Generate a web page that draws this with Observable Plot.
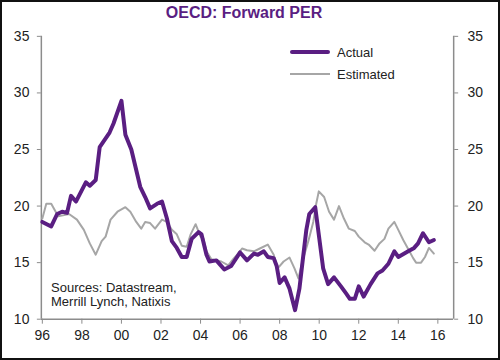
<!DOCTYPE html>
<html>
<head>
<meta charset="utf-8">
<script src="https://cdn.jsdelivr.net/npm/d3@7"></script>
<script src="https://cdn.jsdelivr.net/npm/@observablehq/plot@0.6"></script>
<style>
  html, body { margin: 0; padding: 0; background: #fff; }
  #wrap { position: relative; width: 500px; height: 360px; box-sizing: border-box; border: 2px solid #111; overflow: hidden; font-family: "Liberation Sans", Arial, sans-serif; }
  #chart { position: absolute; left: -2px; top: -2px; }
  .title { position: absolute; left: 0; width: 484px; top: 2px; text-align: center; font-weight: bold; font-size: 16px; color: #5a1e82; }
  .leg { position: absolute; font-size: 13px; color: #222; }
  .sw { position: absolute; height: 0; }
  .src { position: absolute; left: 49px; top: 279px; font-size: 13px; line-height: 14px; color: #222; }
</style>
</head>
<body>
<div id="wrap">
  <div id="chart"></div>
  <div class="title">OECD: Forward PER</div>
  <div class="sw" style="left:288px;top:48px;width:40px;border-top:4px solid #5a1e82;border-radius:2px"></div>
  <div class="leg" style="left:335px;top:43px">Actual</div>
  <div class="sw" style="left:288px;top:71px;width:40px;border-top:2px solid #a6a6a6"></div>
  <div class="leg" style="left:335px;top:65px">Estimated</div>
  <div class="src">Sources: Datastream,<br>Merrill Lynch, Natixis</div>
</div>
<script>
const actualYears = [1996.0,1996.45,1996.75,1997.0,1997.25,1997.45,1997.7,1998.2,1998.4,1998.7,1998.9,1999.4,1999.6,2000.0,2000.2,2000.5,2000.95,2001.2,2001.45,2001.8,2002.05,2002.3,2002.55,2002.8,2003.05,2003.3,2003.55,2003.9,2004.05,2004.3,2004.45,2004.8,2005.2,2005.55,2006.0,2006.35,2006.7,2006.9,2007.2,2007.4,2007.7,2007.85,2008.0,2008.25,2008.5,2008.78,2009.0,2009.2,2009.35,2009.5,2009.8,2010.2,2010.45,2010.75,2011.1,2011.35,2011.55,2011.8,2012.0,2012.25,2012.6,2012.95,2013.2,2013.5,2013.8,2014.0,2014.5,2014.8,2015.0,2015.25,2015.55,2015.8];
const actualValues = [18.6,18.2,19.3,19.5,19.4,20.9,20.4,22.1,21.8,22.3,25.2,26.5,27.3,29.3,26.3,25.0,21.7,20.8,19.8,20.2,20.4,18.9,16.9,16.3,15.5,15.5,17.1,17.7,17.5,15.7,15.1,15.2,14.4,14.7,15.9,15.2,15.8,15.7,16.0,15.5,15.4,14.7,13.2,13.7,12.7,10.8,12.7,15.7,17.9,19.3,19.9,14.5,13.1,13.7,12.9,12.3,11.8,11.8,12.9,12.0,13.1,14.05,14.3,14.9,16.0,15.5,16.0,16.3,16.7,17.6,16.8,17.0];
const estYears = [1996.0,1996.2,1996.45,1996.8,1997.1,1997.35,1997.75,1998.1,1998.4,1998.7,1999.0,1999.2,1999.45,1999.8,2000.2,2000.45,2000.75,2001.0,2001.2,2001.45,2001.7,2002.05,2002.3,2002.55,2002.8,2003.05,2003.3,2003.5,2003.75,2004.0,2004.15,2004.3,2004.55,2004.8,2005.05,2005.4,2005.65,2005.9,2006.1,2006.35,2006.7,2007.0,2007.4,2007.7,2007.9,2008.2,2008.5,2008.75,2008.95,2009.15,2009.45,2009.7,2009.85,2009.98,2010.25,2010.5,2010.75,2011.0,2011.25,2011.5,2011.8,2012.0,2012.3,2012.5,2012.8,2013.05,2013.3,2013.5,2013.8,2014.0,2014.25,2014.5,2014.75,2014.9,2015.15,2015.35,2015.55,2015.8];
const estValues = [18.9,20.2,20.2,19.1,19.2,19.3,18.8,17.9,16.7,15.7,16.9,17.3,18.8,19.5,19.9,19.5,18.6,18.0,18.6,18.5,18.0,18.8,18.6,17.9,17.5,16.5,16.4,17.5,18.4,17.3,17.1,16.0,15.3,15.2,15.1,14.75,15.3,15.8,16.25,16.1,16.0,16.25,16.6,15.7,14.5,15.1,15.45,14.5,13.6,15.1,16.9,18.6,20.2,21.3,20.8,19.5,18.8,20.0,18.9,18.0,17.8,17.3,16.8,16.6,16.05,16.7,17.1,18.0,18.6,17.9,17.0,16.2,15.4,15.0,15.0,15.5,16.3,15.8];
const yTicks = [10,15,20,25,30,35];
const xTicks = [1996,1998,2000,2002,2004,2006,2008,2010,2012,2014,2016];
const xDomain = [1995.95, 2016.8];
const yDomain = [10, 35];

const actual = actualYears.map((x, i) => ({x, y: actualValues[i]}));
const est = estYears.map((x, i) => ({x, y: estValues[i]}));

const chart = Plot.plot({
  width: 500,
  height: 360,
  marginLeft: 41,
  marginRight: 45,
  marginTop: 36,
  marginBottom: 40,
  style: {fontFamily: "'Liberation Sans', Arial, sans-serif", background: "transparent"},
  x: {domain: xDomain, label: null},
  y: {domain: yDomain, label: null},
  marks: [
    Plot.ruleX([xDomain[0], xDomain[1]], {stroke: "#8c8c8c", strokeWidth: 1.5}),
    Plot.ruleY([yDomain[0]], {stroke: "#8c8c8c", strokeWidth: 1.5}),
    Plot.axisY({anchor: "left", label: null, ticks: yTicks, tickSize: 4, tickPadding: 8, fontSize: 14, stroke: "#8c8c8c", fill: "#222"}),
    Plot.axisY({anchor: "right", label: null, ticks: yTicks, tickSize: 4, tickPadding: 10, fontSize: 14, stroke: "#8c8c8c", fill: "#222"}),
    Plot.axisX({label: null, ticks: xTicks, tickSize: 5, tickPadding: 6, fontSize: 14, stroke: "#8c8c8c", fill: "#222", tickFormat: d => String(d % 100).padStart(2, "0")}),
    Plot.line(est, {x: "x", y: "y", stroke: "#a6a6a6", strokeWidth: 2}),
    Plot.line(actual, {x: "x", y: "y", stroke: "#5a1e82", strokeWidth: 4, strokeLinejoin: "round", strokeLinecap: "round"})
  ]
});
document.getElementById("chart").appendChild(chart);
</script>
</body>
</html>
